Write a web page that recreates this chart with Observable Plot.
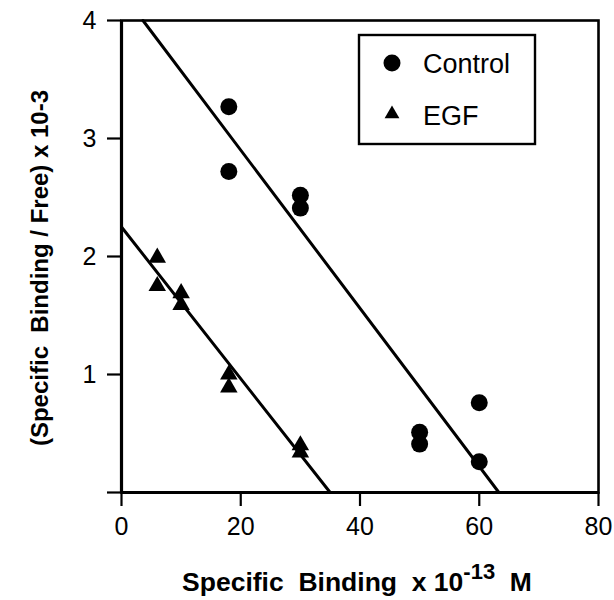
<!DOCTYPE html>
<html>
<head>
<meta charset="utf-8">
<script src="https://cdn.jsdelivr.net/npm/d3@7"></script>
<script src="https://cdn.jsdelivr.net/npm/@observablehq/plot@0.6"></script>
<style>
  html, body { margin: 0; padding: 0; background: #fff; }
  #chart { position: relative; width: 614px; height: 600px; }
  svg { font-family: "Liberation Sans", Arial, sans-serif; }
</style>
</head>
<body>
<div id="chart"></div>
<script>
// Data
const controlX = [18, 18, 30, 30, 50, 50, 60, 60];
const controlY = [3.27, 2.72, 2.52, 2.41, 0.51, 0.41, 0.76, 0.26];
const egfX = [6, 6, 10, 10, 18, 18, 30, 30];
const egfY = [1.99, 1.75, 1.69, 1.59, 1.00, 0.89, 0.40, 0.34];
// fitted lines (endpoints)
const controlFitX = [3.6, 63.3];
const controlFitY = [4, 0];
const egfFitX = [0, 35.0];
const egfFitY = [2.25, 0];
const xTicks = [0, 20, 40, 60, 80];
const yTicks = [0, 1, 2, 3, 4];
const seriesNames = ["Control", "EGF"];

const control = controlX.map((x, i) => ({x, y: controlY[i]}));
const egf = egfX.map((x, i) => ({x, y: egfY[i]}));
const controlFit = controlFitX.map((x, i) => ({x, y: controlFitY[i]}));
const egfFit = egfFitX.map((x, i) => ({x, y: egfFitY[i]}));

const plot = Plot.plot({
  width: 614,
  height: 600,
  marginLeft: 121,
  marginRight: 16,
  marginTop: 20,
  marginBottom: 108,
  style: {fontFamily: "Liberation Sans, Arial, sans-serif", fontSize: "25px", color: "black", background: "white"},
  x: {domain: [0, 80]},
  y: {domain: [0, 4]},
  marks: [
    Plot.frame({stroke: "black", strokeWidth: 2.6}),
    Plot.axisX({ticks: xTicks, tickSize: 14, tickPadding: 11, strokeWidth: 2.2, label: null, tickFormat: d => String(d)}),
    Plot.axisY({ticks: yTicks, tickSize: 14, tickPadding: 11, strokeWidth: 2.2, label: null, tickFormat: d => d === 0 ? "" : String(d)}),
    Plot.ruleX([0], {stroke: "black", strokeWidth: 3.2}),
    Plot.ruleY([0], {stroke: "black", strokeWidth: 3.2}),
    Plot.line(controlFit, {x: "x", y: "y", stroke: "black", strokeWidth: 3}),
    Plot.line(egfFit, {x: "x", y: "y", stroke: "black", strokeWidth: 3}),
    Plot.dot(control, {x: "x", y: "y", r: 8.5, fill: "black", symbol: "circle"}),
    Plot.dot(egf, {x: "x", y: "y", r: 6.5, fill: "black", symbol: "triangle"})
  ]
});
document.getElementById("chart").appendChild(plot);

const svg = d3.select(plot);

// X axis label with superscript
const xl = svg.append("text")
  .attr("x", 357).attr("y", 591)
  .attr("text-anchor", "middle")
  .attr("font-weight", "bold")
  .attr("font-size", 26.5)
  .attr("fill", "black")
  .attr("xml:space", "preserve");
xl.append("tspan").text("Specific  Binding  x 10");
xl.append("tspan").attr("dy", -12).attr("font-size", 22).text("-13");
xl.append("tspan").attr("dy", 12).text("  M");

// Y axis label
svg.append("text")
  .attr("transform", "translate(48,268) rotate(-90)")
  .attr("text-anchor", "middle")
  .attr("font-weight", "bold")
  .attr("font-size", 24)
  .attr("fill", "black")
  .attr("xml:space", "preserve")
  .text("(Specific  Binding / Free) x 10-3");

// Legend
const lg = svg.append("g").attr("transform", "translate(359,35)").attr("text-anchor", "start");
lg.append("rect").attr("x", 0).attr("y", 0).attr("width", 176).attr("height", 109)
  .attr("fill", "white").attr("stroke", "black").attr("stroke-width", 2.4);
lg.append("circle").attr("cx", 33).attr("cy", 28).attr("r", 8.5).attr("fill", "black");
lg.append("path").attr("transform", "translate(33,79)")
  .attr("d", d3.symbol(d3.symbolTriangle, 5.5 * 5.5 * Math.PI)()).attr("fill", "black");
lg.append("text").attr("x", 64).attr("y", 38).attr("text-anchor", "start").attr("font-size", 27).attr("fill", "black").text(seriesNames[0]);
lg.append("text").attr("x", 64).attr("y", 90).attr("text-anchor", "start").attr("font-size", 27).attr("fill", "black").text(seriesNames[1]);
</script>
</body>
</html>
